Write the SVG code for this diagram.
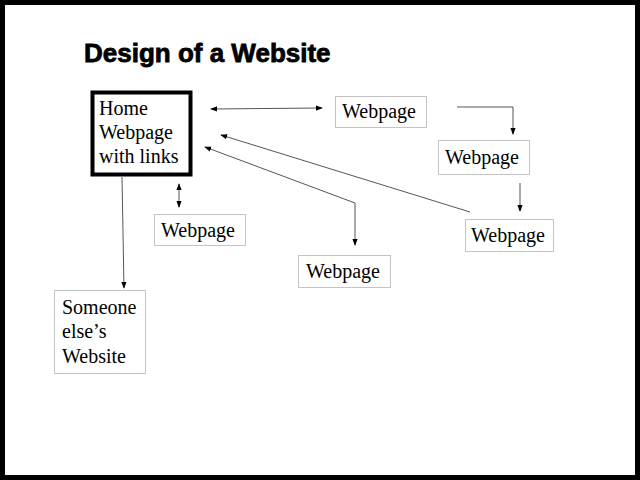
<svg xmlns="http://www.w3.org/2000/svg" width="640" height="480" viewBox="0 0 640 480">
<style>
.b{fill:#fff;stroke:#888;stroke-width:1;stroke-dasharray:1 1}
.t{font-family:"Liberation Serif",serif;font-size:20px;fill:#000}
.c{stroke:#555;stroke-width:1;fill:none}
</style>
<defs><marker id="a" viewBox="0 0 8 8" refX="7" refY="4" markerWidth="7" markerHeight="7" orient="auto-start-reverse"><path d="M0,1L8,4L0,7z" fill="#000"/></marker></defs>
<rect x="2.5" y="2.5" width="635" height="475" fill="#fff" stroke="#000" stroke-width="5"/>
<text x="84" y="62" font-family="Liberation Sans,Arial,sans-serif" font-weight="bold" font-size="26" stroke="#000" stroke-width="0.8">Design of a Website</text>
<g id="home"><rect x="92.5" y="92.5" width="98" height="82" fill="#fff" stroke="#000" stroke-width="4"/>
<text class="t" x="99" y="115">Home</text><text class="t" x="99" y="139">Webpage</text><text class="t" x="99" y="163">with links</text></g>
<g id="w1"><rect class="b" x="335.5" y="96.5" width="91" height="31"/><text class="t" x="342" y="118">Webpage</text></g>
<g id="w2"><rect class="b" x="438.5" y="140.5" width="91" height="34"/><text class="t" x="445" y="164">Webpage</text></g>
<g id="w3"><rect class="b" x="465.5" y="219.5" width="88" height="32"/><text class="t" x="471" y="242">Webpage</text></g>
<g id="w4"><rect class="b" x="298.5" y="255.5" width="92" height="32"/><text class="t" x="306" y="278">Webpage</text></g>
<g id="w5"><rect class="b" x="154.5" y="214.5" width="91" height="31"/><text class="t" x="161" y="237">Webpage</text></g>
<g id="other"><rect class="b" x="54.5" y="290.5" width="91" height="83"/>
<text class="t" x="62" y="314">Someone</text><text class="t" x="62" y="338">else’s</text><text class="t" x="62" y="363">Website</text></g>
<g id="connectors">
<path class="c" d="M211,109L322,108" marker-start="url(#a)" marker-end="url(#a)"/>
<path class="c" d="M457,107H513V134" marker-end="url(#a)"/>
<path class="c" d="M520,183V211" marker-end="url(#a)"/>
<path class="c" d="M470,212L221,135" marker-end="url(#a)"/>
<path class="c" d="M355,245V203L205,147" marker-start="url(#a)" marker-end="url(#a)"/>
<path class="c" d="M179,184V207" marker-start="url(#a)" marker-end="url(#a)"/>
<path class="c" d="M122,177L124,288" marker-end="url(#a)"/>
</g>
</svg>
